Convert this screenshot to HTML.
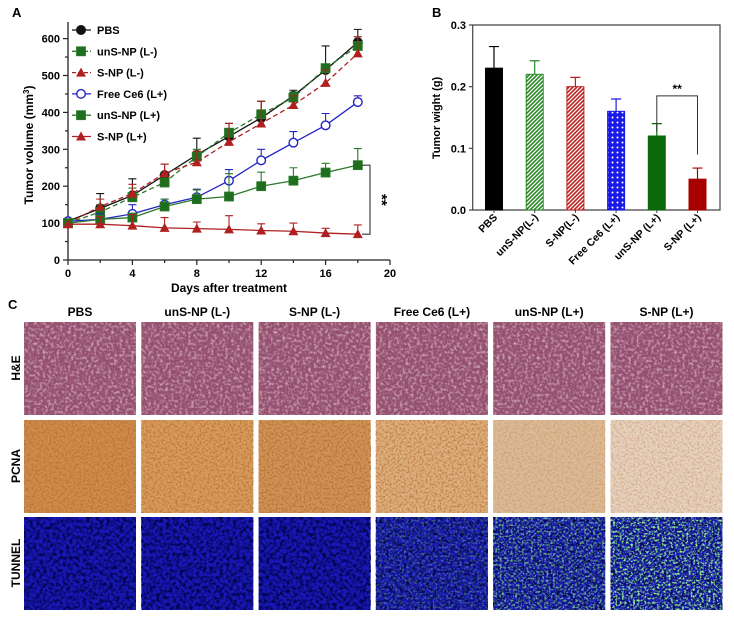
<!DOCTYPE html>
<html><head><meta charset="utf-8"><style>
body{margin:0;background:#fff;}
svg{font-family:"Liberation Sans",Arial,sans-serif;font-weight:bold;}
</style></head><body>
<svg id="fig" width="734" height="622" viewBox="0 0 734 622" xmlns="http://www.w3.org/2000/svg">
<defs>
<pattern id="hatchG" width="4" height="4" patternUnits="userSpaceOnUse"><rect width="4" height="4" fill="#fff"/><path d="M0,4L4,0M-1,1L1,-1M3,5L5,3" stroke="#2a8a2a" stroke-width="1.6"/></pattern>
<pattern id="hatchR" width="4" height="4" patternUnits="userSpaceOnUse"><rect width="4" height="4" fill="#fff"/><path d="M0,4L4,0M-1,1L1,-1M3,5L5,3" stroke="#c02020" stroke-width="1.6"/></pattern>
<pattern id="dotsB" width="5" height="5" patternUnits="userSpaceOnUse"><rect width="5" height="5" fill="#1a1ae8"/><circle cx="2.5" cy="2.5" r="1" fill="#fff"/></pattern>
<filter id="fHE" x="0" y="0" width="100%" height="100%"><feTurbulence type="fractalNoise" baseFrequency="0.35" numOctaves="2" seed="3"/><feColorMatrix type="matrix" values="0 0 0 0 0.82  0 0 0 0 0.6  0 0 0 0 0.7  1.8 0 0 0 -0.8"/></filter>
<filter id="fPC" x="0" y="0" width="100%" height="100%"><feTurbulence type="fractalNoise" baseFrequency="0.5" numOctaves="2" seed="5"/><feColorMatrix type="matrix" values="0 0 0 0 0.5  0 0 0 0 0.18  0 0 0 0 0.04  4 0 0 0 -1.75"/></filter>
<filter id="fTB" x="0" y="0" width="100%" height="100%"><feTurbulence type="fractalNoise" baseFrequency="0.3" numOctaves="2" seed="7"/><feColorMatrix type="matrix" values="0 0 0 0 0  0 0 0 0 0  0 0 0 0 0.05  2.6 0 0 0 -1.0"/></filter>
<filter id="fGR" x="0" y="0" width="100%" height="100%"><feTurbulence type="fractalNoise" baseFrequency="0.45" numOctaves="2" seed="11"/><feColorMatrix type="matrix" values="0 0 0 0 0.3  0 0 0 0 0.9  0 0 0 0 0.3  3.5 0 0 0 -1.6"/></filter>
</defs>
<g id="panelA"></g>
<g id="panelB"></g>
<g id="panelC"></g>
</svg>
<script>
// ---------- Panel A data ----------
const days = [0,2,4,6,8,10,12,14,16,18];
const pbsVals   = [105,140,175,230,285,335,385,445,515,590];
const pbsErr    = [0,40,45,30,45,35,45,15,65,35];
const unsLmVals = [100,130,170,210,280,345,395,440,520,580];
const unsLmErr  = [0,20,25,25,20,25,35,15,10,25];
const snpLmVals = [100,145,180,235,265,320,370,420,480,560];
const snpLmErr  = [0,20,25,25,30,50,60,25,35,45];
const ce6Vals   = [105,110,125,150,170,215,270,318,365,428];
const ce6Err    = [0,15,25,15,22,30,30,30,32,17];
const unsLpVals = [100,110,115,145,165,172,200,215,237,257];
const unsLpErr  = [0,10,10,20,25,62,38,35,25,45];
const snpLpVals = [97,97,93,87,85,83,80,78,73,70];
const snpLpErr  = [0,20,30,28,18,37,18,22,13,25];
const yTicksA = [0,100,200,300,400,500,600];
const xTicksA = [0,4,8,12,16,20];
const seriesNames = ["PBS","unS-NP (L-)","S-NP (L-)","Free Ce6 (L+)","unS-NP (L+)","S-NP (L+)"];
// ---------- Panel B data ----------
const barCats = ["PBS","unS-NP(L-)","S-NP(L-)","Free Ce6 (L+)","unS-NP (L+)","S-NP (L+)"];
const barVals = [0.23,0.22,0.20,0.16,0.12,0.05];
const barErr  = [0.035,0.022,0.015,0.02,0.02,0.018];
const yTicksB = [0.0,0.1,0.2,0.3];
// ---------- Panel C labels ----------
const colTitles = ["PBS","unS-NP (L-)","S-NP (L-)","Free Ce6 (L+)","unS-NP (L+)","S-NP (L+)"];
const rowTitles = ["H&E","PCNA","TUNNEL"];
const greenLevel = [0,0,0,0.35,0.7,1];

const NS="http://www.w3.org/2000/svg";
function mk(parent,tag,attrs,text){const e=document.createElementNS(NS,tag);for(const k in attrs)e.setAttribute(k,attrs[k]);if(text!==undefined)e.textContent=text;parent.appendChild(e);return e;}

// ---------- Panel A ----------
const A=document.getElementById('panelA');
const xA=d=>68+d*16.1, yA=v=>260-v*0.369;
let t;
t=mk(A,'text',{x:12,y:17,'font-size':13},'A');


let ax=mk(A,'path',{d:`M68,22V260H390`,stroke:'#222','stroke-width':1.3,fill:'none'});


for(let v=0;v<=600;v+=50){mk(A,'line',{x1:68,x2:v%100?65:63,y1:yA(v),y2:yA(v),stroke:'#222','stroke-width':1.2});}
yTicksA.forEach(v=>{t=mk(A,'text',{x:60,y:yA(v)+4,'font-size':11,'text-anchor':'end'},v);

});
for(let d=0;d<=20;d+=2){mk(A,'line',{x1:xA(d),x2:xA(d),y1:260,y2:d%4?263:265,stroke:'#222','stroke-width':1.2});}
xTicksA.forEach(d=>{t=mk(A,'text',{x:xA(d),y:277,'font-size':11,'text-anchor':'middle'},d);

});
t=mk(A,'text',{x:229,y:292,'font-size':12,'text-anchor':'middle'},'Days after treatment');


t=mk(A,'text',{x:0,y:0,'font-size':12,'text-anchor':'middle',transform:'translate(33,145) rotate(-90)'});
t.innerHTML='Tumor volume (mm<tspan font-size="8" dy="-4">3</tspan><tspan dy="4">)</tspan>';



const series=[
 {v:pbsVals,e:pbsErr,c:'#111',dash:'',m:'circle',fill:'#111'},
 {v:unsLmVals,e:unsLmErr,c:'#2a7a2a',dash:'5,3',m:'square',fill:'#1e6e1e'},
 {v:snpLmVals,e:snpLmErr,c:'#b02020',dash:'5,3',m:'tri',fill:'#b02020'},
 {v:ce6Vals,e:ce6Err,c:'#2323c8',dash:'',m:'circle',fill:'#fff'},
 {v:unsLpVals,e:unsLpErr,c:'#2a7a2a',dash:'',m:'square',fill:'#1e6e1e'},
 {v:snpLpVals,e:snpLpErr,c:'#b02020',dash:'',m:'tri',fill:'#b02020'}
];
function marker(g,type,x,y,c,fill){
 let m;
 if(type==='circle')m=mk(g,'circle',{cx:x,cy:y,r:4.3,fill:fill,stroke:c,'stroke-width':1.4});
 else if(type==='square')m=mk(g,'rect',{x:x-4.5,y:y-4.5,width:9,height:9,fill:fill,stroke:c,'stroke-width':0.8});
 else m=mk(g,'path',{d:`M${x},${y-5}L${x+5},${y+4}L${x-5},${y+4}Z`,fill:fill});
 return m;
}
series.forEach((s,i)=>{
 const g=mk(A,'g',{});
 
 
 days.forEach((d,j)=>{ if(s.e[j]>0){
  mk(g,'path',{d:`M${xA(d)},${yA(s.v[j])}V${yA(s.v[j]+s.e[j])}M${xA(d)-4},${yA(s.v[j]+s.e[j])}H${xA(d)+4}`,stroke:s.c,'stroke-width':1.1,fill:'none'});}});
 const ln=mk(g,'polyline',{points:days.map((d,j)=>xA(d)+','+yA(s.v[j])).join(' '),fill:'none',stroke:s.c,'stroke-width':1.3,'stroke-dasharray':s.dash});
 
 
 days.forEach((d,j)=>{const m=marker(g,s.m,xA(d),yA(s.v[j]),s.c,s.fill);
  
  });
 const ly=30+i*21.3;
 const lg=mk(A,'g',{});
 
 
 mk(lg,'line',{x1:72,x2:91,y1:ly,y2:ly,stroke:s.c,'stroke-width':1.3,'stroke-dasharray':s.dash?'4,2':''});
 marker(lg,s.m,81,ly,s.c,s.fill);
 mk(lg,'text',{x:97,y:ly+4,'font-size':11},seriesNames[i]);
});
let br=mk(A,'path',{d:`M362,${yA(257)}H370V${yA(70)}H362`,stroke:'#333','stroke-width':1.1,fill:'none'});


t=mk(A,'text',{x:0,y:0,'font-size':15,'text-anchor':'middle',transform:`translate(377,${yA(163)}) rotate(90)`},'**');



// ---------- Panel B ----------
const B=document.getElementById('panelB');
const yB=v=>210-v*616.7;
const xB=i=>494+i*40.7;
t=mk(B,'text',{x:432,y:17,'font-size':13},'B');


ax=mk(B,'path',{d:`M472.7,${yB(0.3)}H720V210H472.7Z`,stroke:'#444','stroke-width':1.2,fill:'none'});


yTicksB.forEach(v=>{mk(B,'line',{x1:469,x2:472.7,y1:yB(v),y2:yB(v),stroke:'#444','stroke-width':1.2});
 t=mk(B,'text',{x:466,y:yB(v)+4,'font-size':11,'text-anchor':'end'},v.toFixed(1));
 
 });
t=mk(B,'text',{x:0,y:0,'font-size':11,'text-anchor':'middle',transform:'translate(440,118) rotate(-90)'},'Tumor wight (g)');


const fills=['#000','url(#hatchG)','url(#hatchR)','url(#dotsB)','#0a6a0a','#a80000'];
const strokes=['#000','#2a8a2a','#c02020','#1a1ae8','#0a6a0a','#a80000'];
barVals.forEach((v,i)=>{
 const x=xB(i);
 mk(B,'path',{d:`M${x},${yB(v)}V${yB(v+barErr[i])}M${x-5},${yB(v+barErr[i])}H${x+5}`,stroke:strokes[i],'stroke-width':1.2,fill:'none'});
 const r=mk(B,'rect',{x:x-8.5,y:yB(v),width:17,height:210-yB(v),fill:fills[i],stroke:strokes[i],'stroke-width':1});
 
 
 mk(B,'line',{x1:x,x2:x,y1:210,y2:213,stroke:'#444'});
 t=mk(B,'text',{x:0,y:0,'font-size':10.5,'text-anchor':'end',transform:`translate(${x+4},${218}) rotate(-45)`},barCats[i]);
 
 
});
br=mk(B,'path',{d:`M${xB(4)},${yB(0.14)+8}V${yB(0.185)}H${xB(5)}V${yB(0.09)}`,stroke:'#333','stroke-width':1,fill:'none'});


t=mk(B,'text',{x:(xB(4)+xB(5))/2,y:yB(0.185)-3,'font-size':12,'text-anchor':'middle'},'**');



// ---------- Panel C ----------
const C=document.getElementById('panelC');
t=mk(C,'text',{x:8,y:309,'font-size':13},'C');


const rowY=[322,420,517], base=[ '#94506e', '#d29a60', '#1818b8'];
const pcnaBase=['#d08c4c','#d89c5c','#cf9458','#ddb080','#dbbb98','#e6d2c0'];
const pcnaSpot=[1,0.85,1,0.75,0.3,0.35];
colTitles.forEach((ct,c)=>{
 const x=24+c*117.3;
 t=mk(C,'text',{x:x+56,y:316,'font-size':12,'text-anchor':'middle'},ct);
 
 
 rowTitles.forEach((rt,r)=>{
  const y=rowY[r];
  const g=mk(C,'g',{});
  
  
  const col = r===1? pcnaBase[c] : base[r];
  mk(g,'rect',{x:x,y:y,width:112,height:93,fill:col});
  const f = r===0?'fHE':r===1?'fPC':'fTB';
  mk(g,'rect',{x:x,y:y,width:112,height:93,filter:`url(#${f})`,opacity: r===1? pcnaSpot[c] : 1});
  if(r===2 && greenLevel[c]>0) mk(g,'rect',{x:x,y:y,width:112,height:93,filter:'url(#fGR)',opacity:greenLevel[c]});
 });
});
rowTitles.forEach((rt,r)=>{
 t=mk(C,'text',{x:0,y:0,'font-size':12,'text-anchor':'middle',transform:`translate(20,${rowY[r]+46}) rotate(-90)`},rt);
 
 
});
</script>
</body></html>
